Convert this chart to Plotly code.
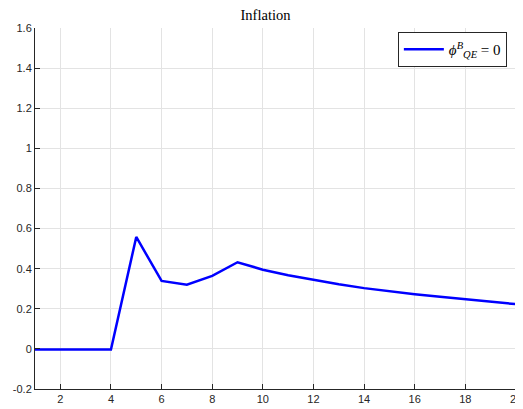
import plotly.graph_objects as go

periods = list(range(1, 21))
inflation = [-0.003, -0.003, -0.003, -0.003, 0.558, 0.339, 0.320, 0.364, 0.432, 0.395,
             0.367, 0.344, 0.322, 0.303, 0.287, 0.273, 0.260, 0.248, 0.235, 0.223]
series_name = "<i>ϕ</i><sup><i>B</i></sup><sub><i>QE</i></sub> = 0"
x_ticks = list(range(2, 21, 2))
y_ticks = [-0.2, 0, 0.2, 0.4, 0.6, 0.8, 1, 1.2, 1.4, 1.6]
y_labels = ["-0.2", "0", "0.2", "0.4", "0.6", "0.8", "1", "1.2", "1.4", "1.6"]

fig = go.Figure()
fig.add_trace(go.Scatter(x=periods, y=inflation, mode="lines", name=series_name,
                         line=dict(color="#0000ff", width=2.5)))

axis_common = dict(showline=True, linecolor="#262626", linewidth=1, mirror=False,
                   ticks="inside", ticklen=5, tickcolor="#262626", automargin=False,
                   ticklabeloverflow="allow",
                   showgrid=True, gridcolor="#e3e3e3", gridwidth=1, zeroline=False,
                   tickfont=dict(family="Liberation Sans, Arial", size=11, color="#262626"))

fig.update_layout(
    width=515, height=401,
    margin=dict(l=27, r=7, t=20, b=20, autoexpand=False),
    paper_bgcolor="white", plot_bgcolor="white",
    title=dict(text="Inflation", x=0.5, xanchor="center", yref="container", y=0.982, yanchor="middle",
               font=dict(family="Liberation Serif, DejaVu Serif, serif", size=14.5, color="#000")),
    xaxis=dict(range=[1, 20], tickvals=x_ticks, **axis_common),
    yaxis=dict(range=[-0.2, 1.6], tickvals=y_ticks, ticktext=y_labels, **axis_common),
    showlegend=True,
    legend=dict(x=0.981, y=0.989, xanchor="right", yanchor="top",
                bgcolor="white", bordercolor="#262626", borderwidth=1,
                font=dict(family="Liberation Serif, DejaVu Serif, serif", size=15, color="#000"),
                itemwidth=40, tracegroupgap=0),
)

fig.write_html(
    "out.html",
    post_script=(
        "document.documentElement.style.overflow='hidden';"
        "document.body.style.overflow='hidden';"
        "var s=document.querySelectorAll('svg.main-svg');"
        "for(var i=0;i<s.length;i++){s[i].style.overflow='visible';}"
    ),
)
